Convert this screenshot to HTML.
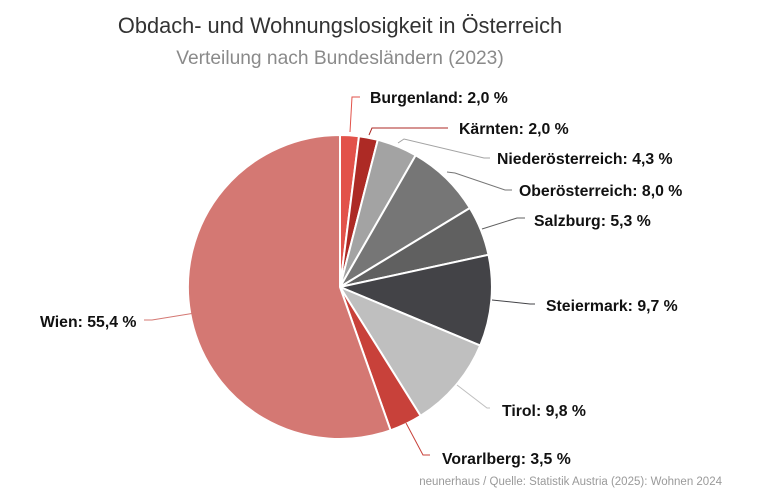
<!DOCTYPE html><html><head><meta charset="utf-8"><style>body{margin:0;background:#fff}svg{display:block;font-family:"Liberation Sans",Arial,sans-serif}</style></head><body>
<svg width="768" height="503" viewBox="0 0 768 503">
<text x="340" y="33" font-size="21.8" fill="#333" text-anchor="middle">Obdach- und Wohnungslosigkeit in Österreich</text>
<text x="340" y="64" font-size="19.2" fill="#8a8a8a" text-anchor="middle">Verteilung nach Bundesländern (2023)</text>
<g stroke="#fff" stroke-width="2" stroke-linejoin="round">
<path d="M340,287 L340,135 A152,152 0 0 1 359,136.2Z" fill="#e2524a"/>
<path d="M340,287 L359,136.2 A152,152 0 0 1 377.8,139.8Z" fill="#ad2a25"/>
<path d="M340,287 L377.8,139.8 A152,152 0 0 1 415.7,155.2Z" fill="#a3a3a3"/>
<path d="M340,287 L415.7,155.2 A152,152 0 0 1 469.9,208Z" fill="#767676"/>
<path d="M340,287 L469.9,208 A152,152 0 0 1 488.5,254.8Z" fill="#606060"/>
<path d="M340,287 L488.5,254.8 A152,152 0 0 1 480.2,345.6Z" fill="#434347"/>
<path d="M340,287 L480.2,345.6 A152,152 0 0 1 420.6,415.9Z" fill="#bfbfbf"/>
<path d="M340,287 L420.6,415.9 A152,152 0 0 1 390.6,430.3Z" fill="#c8413a"/>
<path d="M340,287 L390.6,430.3 A152,152 0 1 1 340,135Z" fill="#d47873"/>
</g>
<g fill="none" stroke-width="1">
<polyline points="350,132 352,97 360,97" stroke="#e2524a"/>
<polyline points="369,135 372,128 448,128" stroke="#ad2a25"/>
<polyline points="398,143 404,139 484,158 490,158" stroke="#a3a3a3"/>
<polyline points="447,172 455,173 505,190 512,190" stroke="#767676"/>
<polyline points="482,229 517,218 525,218" stroke="#606060"/>
<polyline points="492,300 530,304 535,304" stroke="#434347"/>
<polyline points="457,385 487,408 490,408" stroke="#bfbfbf"/>
<polyline points="406,423 423,455 430,455" stroke="#c8413a"/>
<polyline points="195,313 152,320 144,320" stroke="#d47873"/>
</g>
<g font-size="15.8" font-weight="bold" fill="#111">
<text x="370" y="103">Burgenland: 2,0 %</text>
<text x="459" y="134">Kärnten: 2,0 %</text>
<text x="497" y="164">Niederösterreich: 4,3 %</text>
<text x="519" y="196">Oberösterreich: 8,0 %</text>
<text x="534" y="226">Salzburg: 5,3 %</text>
<text x="546" y="311">Steiermark: 9,7 %</text>
<text x="502" y="416">Tirol: 9,8 %</text>
<text x="442" y="464">Vorarlberg: 3,5 %</text>
<text x="40" y="327">Wien: 55,4 %</text>
</g>
<text x="722" y="485" font-size="11.5" fill="#9a9a9a" text-anchor="end">neunerhaus / Quelle: Statistik Austria (2025): Wohnen 2024</text>
</svg></body></html>
